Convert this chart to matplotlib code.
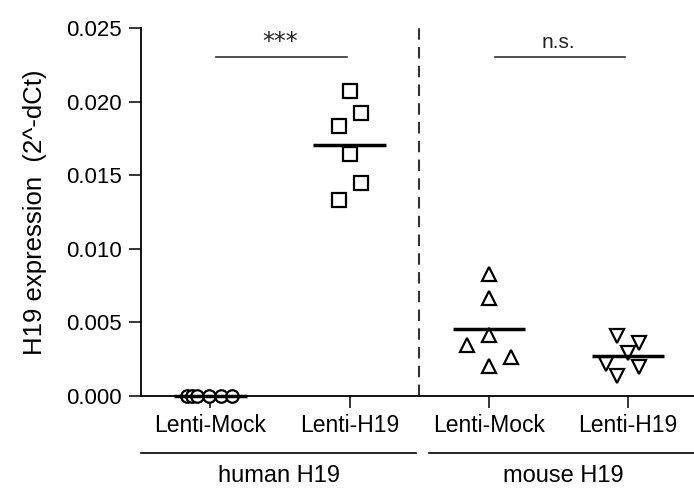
import numpy as np
import matplotlib
matplotlib.use("Agg")
import matplotlib.pyplot as plt
import matplotlib.transforms as mtransforms

plt.rcParams['font.family'] = ['Liberation Sans', 'DejaVu Sans']

# Values (2^-dCt)
groups = ["Lenti-Mock", "Lenti-H19", "Lenti-Mock", "Lenti-H19"]
human_mock = [0.0, 0.0, 0.0, 0.0, 0.0, 0.0]
human_h19 = [0.02073, 0.01922, 0.01835, 0.01643, 0.01449, 0.01332]
mouse_mock = [0.00830, 0.00663, 0.00411, 0.00345, 0.00261, 0.00202]
mouse_h19 = [0.00408, 0.00359, 0.00288, 0.00216, 0.00195, 0.00136]
species = ["human H19", "mouse H19"]
sig_labels = ["***", "n.s."]

# horizontal scatter of the points inside a column
jitter = [
    [-0.165, -0.129, -0.093, -0.01, 0.075, 0.158],
    [0.0, 0.079, -0.079, 0.0, 0.079, -0.079],
    [0.0, 0.0, 0.0, -0.158, 0.158, 0.0],
    [-0.079, 0.079, 0.0, -0.158, 0.079, -0.079],
]
markers = ["o", "s", "^", "v"]
msizes = [9, 10, 10.5, 10.5]

fig = plt.figure(figsize=(6.94, 4.88), dpi=100)
ax = fig.add_axes([0.2027, 0.1891, 0.8029, 0.7529])

series = [human_mock, human_h19, mouse_mock, mouse_h19]
for i, vals in enumerate(series):
    xs = i + np.array(jitter[i])
    ax.plot(xs, vals, linestyle="none", marker=markers[i], markersize=msizes[i],
            markerfacecolor="white", markeredgecolor="black", markeredgewidth=1.6,
            clip_on=False, zorder=3)
    m = np.mean(vals)
    ax.plot([i - 0.26, i + 0.26], [m, m], color="black", lw=2.5, zorder=4,
            solid_capstyle="butt", clip_on=False)

# separator between human and mouse
ax.plot([1.5, 1.5], [0, 0.025], color="#333333", lw=1.5, linestyle=(0, (5.5, 3.5)),
        clip_on=False)

# significance bars
for a, b in [(0, 1), (2, 3)]:
    ax.plot([a + 0.04, b - 0.02], [0.02307, 0.02307], color="#333333", lw=1.2,
            clip_on=False)
ax.text(0.5, 0.0241, sig_labels[0], ha="center", va="center", fontsize=17,
        family="DejaVu Sans", color="#222222")
ax.text(2.5, 0.02364, sig_labels[1], ha="center", va="baseline", fontsize=15,
        color="#222222")

ax.set_xlim(-0.5, 3.5)
ax.set_ylim(0, 0.025)
ax.set_yticks(np.arange(0, 0.0251, 0.005))
ax.yaxis.set_major_formatter(matplotlib.ticker.FormatStrFormatter("%.3f"))
ax.set_xticks(range(4))
ax.set_xticklabels(groups)

for s in ["top", "right"]:
    ax.spines[s].set_visible(False)
for s in ["left", "bottom"]:
    ax.spines[s].set_linewidth(1.3)
ax.tick_params(axis="both", length=8.5, width=1.1, colors="black")
ax.tick_params(axis="x", pad=5, labelsize=16.5)
ax.tick_params(axis="y", pad=5, labelsize=16)
ax.set_ylabel("H19 expression  (2^-dCt)", fontsize=18.5, labelpad=14)

# group labels under the x axis
trans = mtransforms.blended_transform_factory(ax.transData, ax.transAxes)
for (x0, x1), name in zip([(-0.5, 1.48), (1.57, 3.5)], species):
    ax.plot([x0, x1], [-0.157, -0.157], color="black", lw=1.2, transform=trans,
            clip_on=False)
    ax.text((x0 + x1) / 2, -0.218, name, transform=trans, ha="center",
            va="center", fontsize=17)

fig.savefig("out.png", dpi=100)
